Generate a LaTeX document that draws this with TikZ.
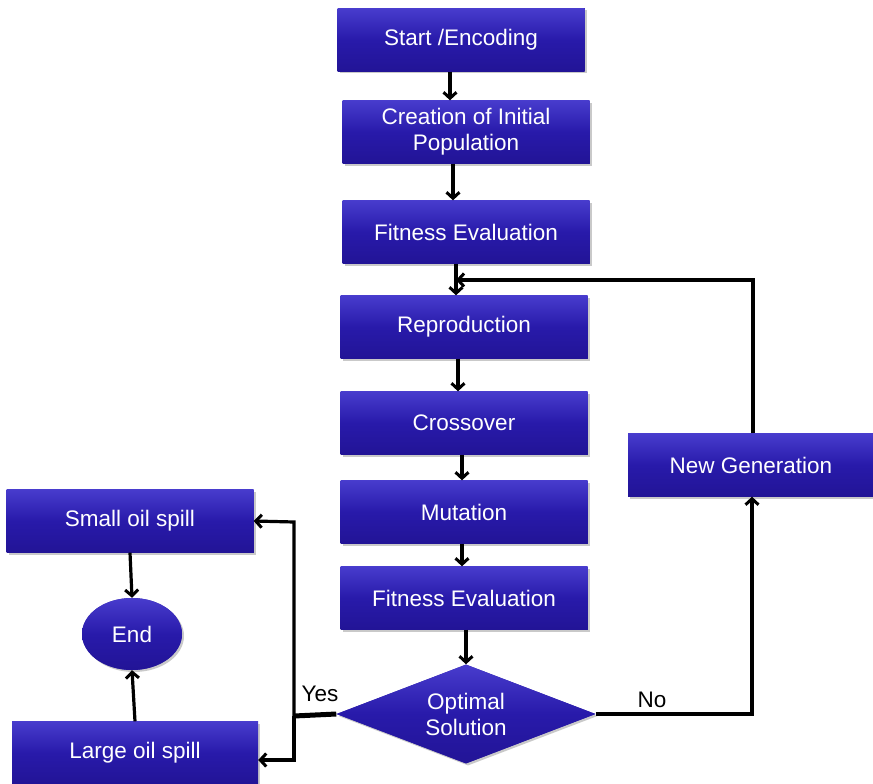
\documentclass[tikz,border=0pt]{standalone}
\usepackage{fontspec}
\setmainfont{Liberation Sans}
\usetikzlibrary{shapes.geometric,arrows.meta,shadows,calc}
\definecolor{boxblue}{RGB}{40,26,170}
\definecolor{boxtop}{RGB}{72,60,205}
\definecolor{boxbot}{RGB}{34,20,150}
\tikzset{
  base/.style={fill=boxblue, text=white, font=\fontsize{22.5}{26}\selectfont, align=center,
    drop shadow={shadow xshift=2pt, shadow yshift=-2pt, opacity=0.35, fill=black!60},
    top color=boxtop, bottom color=boxbot, middle color=boxblue, inner sep=2pt},
  box/.style={base, rectangle, minimum width=247pt, minimum height=63pt},
  endnode/.style={base, ellipse, minimum width=100pt, minimum height=72pt, inner sep=0pt},
  decision/.style={base, diamond, aspect=2.6, minimum width=259pt, minimum height=99pt, inner sep=0pt},
  arr/.style={-{Straight Barb[length=6pt,width=13pt,line width=3pt]}, line width=3.2pt, draw=black},
  lbl/.style={font=\fontsize{22.5}{26}\selectfont, text=black}
}
\begin{document}
\begin{tikzpicture}[x=1pt,y=-1pt]
\useasboundingbox (0,0) rectangle (873,784);
\fill[white] (0,0) rectangle (873,784);

\node[box] (start) at (461,40) {Start /Encoding};
\node[box] (init) at (466,132) {Creation of Initial\\Population};
\node[box] (fit1) at (466,232) {Fitness Evaluation};
\node[box] (repr) at (464,327) {Reproduction};
\node[box] (cross) at (464,423) {Crossover};
\node[box] (mut) at (464,512) {Mutation};
\node[box] (fit2) at (464,598) {Fitness Evaluation};
\node[decision] (opt) at (466,714) {Optimal\\Solution};
\node[box, minimum width=246pt] (newgen) at (751,465) {New Generation};
\node[box] (small) at (130,521) {Small oil spill};
\node[endnode] (end) at (132,634) {End};
\node[box, minimum width=246pt] (large) at (135,753) {Large oil spill};

\coordinate (j1) at (456,280);
\coordinate (ltop) at (753,280);
\coordinate (rno) at (752,714);
\coordinate (yx) at (294,716);
\coordinate (ys) at (294,522);
\coordinate (yl) at (294,760);

\draw[arr] ($(start.south)+(-11,0)$) -- ($(init.north)+(-16,0)$);
\draw[arr] ($(init.south)+(-13,0)$) -- ($(fit1.north)+(-13,0)$);
\draw[arr] ($(fit1.south)+(-10,0)$) -- ($(repr.north)+(-8,0)$);
\draw[arr] ($(repr.south)+(-6,0)$) -- ($(cross.north)+(-6,0)$);
\draw[arr] ($(cross.south)+(-2,0)$) -- ($(mut.north)+(-2,0)$);
\draw[arr] ($(mut.south)+(-2,0)$) -- ($(fit2.north)+(-2,0)$);
\draw[arr] ($(fit2.south)+(2,0)$) -- (opt.north);

\draw[arr] ($(newgen.north)+(2,0)$) -- (ltop) -- (j1);
\draw[arr] (opt.east) -- (rno) -- ($(newgen.south)+(1,0)$);
\node[lbl] (no) at (652,700) {No};

\draw[line width=5pt] (opt.west) -- (yx);
\draw[arr] (yx) -- (ys) -- (small.east);
\draw[arr] (yx) -- (yl) -- ($(large.east)+(0,7)$);
\node[lbl] (yes) at (320,694) {Yes};

\draw[arr] (small.south) -- (end.north);
\draw[arr] (large.north) -- (end.south);
\end{tikzpicture}
\end{document}
